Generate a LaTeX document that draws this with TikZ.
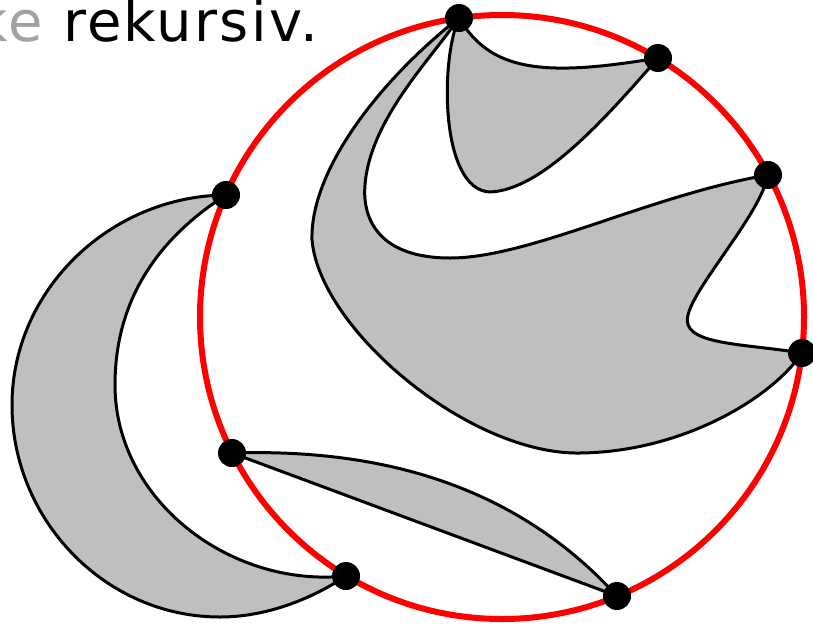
\documentclass[tikz,border=0pt]{standalone}
\usepackage{fontspec}
\setmainfont{DejaVu Sans}

\begin{document}
\begin{tikzpicture}[line cap=round,line join=round,x=1pt,y=-1pt,
	flaeche/.style={fill=black!25,draw=black,line width=3pt},
	kreis/.style={draw=red,line width=6pt},
	titelschrift/.style={inner sep=0pt,font=\addfontfeature{LetterSpace=4}\fontsize{56}{64}\selectfont}]
		\useasboundingbox (0,0) rectangle (813,624);
		%Titel
		\node[titelschrift,anchor=base west] (titel) at (63,41) {rekursiv.};
		\node[titelschrift,anchor=base east,text=black!37,xshift=-20pt] (vorher) at (titel.base west) {ke};
		%Punkte auf dem Kreis
		\coordinate (a) at (459,18);
		\coordinate (b) at (658,58);
		\coordinate (c) at (768,175);
		\coordinate (d) at (802,353);
		\coordinate (e) at (617,596);
		\coordinate (f) at (346,576);
		\coordinate (g) at (232,453);
		\coordinate (h) at (226,195);
		%Flaeche 1
		\draw[flaeche] (a) .. controls (380,80) and (310,170) .. (312,240)
			.. controls (320,330) and (470,455) .. (580,453)
			.. controls (680,452) and (770,400) .. (d)
			.. controls (740,343) and (680,345) .. (688,315)
			.. controls (695,285) and (760,215) .. (c)
			.. controls (650,195) and (530,258) .. (450,258)
			.. controls (380,258) and (362,220) .. (365,185)
			.. controls (370,120) and (430,60) .. (a) -- cycle;
		%Flaeche 2
		\draw[flaeche] (a) .. controls (490,70) and (540,78) .. (b)
			.. controls (600,125) and (540,190) .. (490,192)
			.. controls (440,190) and (440,60) .. (a) -- cycle;
		%Flaeche 3
		\draw[flaeche] (h) .. controls (110,196) and (12,290) .. (12,405)
			.. controls (12,520) and (105,617) .. (220,617)
			.. controls (265,617) and (310,600) .. (f)
			.. controls (230,588) and (115,500) .. (115,385)
			.. controls (115,320) and (140,250) .. (h) -- cycle;
		%Flaeche 4
		\draw[flaeche] (g) .. controls (390,448) and (520,490) .. (e) -- cycle;
		%Kreis
		\draw[kreis] (502,317) circle (302);
		%Punkte
		\foreach \p in {a,b,c,d,e,f,g,h}
			\fill (\p) circle (14);
\end{tikzpicture}
\end{document}
